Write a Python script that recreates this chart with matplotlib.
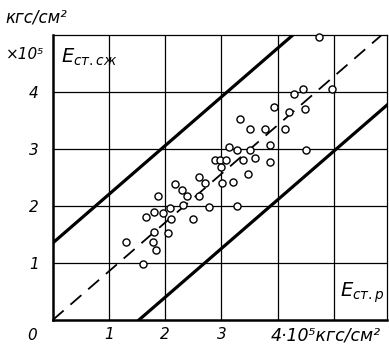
"""Scatter of E_ст.сж against E_ст.р with the mean line and two bounds."""

import matplotlib
matplotlib.use("Agg")
import matplotlib.pyplot as plt
import numpy as np

# E_ст.р, 10^5 кгс/см²
e_tension = [1.31, 1.60, 1.78, 1.84, 1.80, 2.05, 1.66, 1.80, 1.96, 2.10,
             2.08, 2.32, 2.50, 2.78, 3.27, 1.88, 2.18, 2.29, 2.39, 2.60,
             2.71, 2.60, 3.01, 3.20, 2.88, 2.98, 3.08, 2.99, 3.39, 3.59,
             3.86, 3.47, 3.14, 3.28, 3.50, 3.86, 4.50, 3.33, 3.50, 3.77,
             4.13, 3.93, 4.20, 4.48, 4.29, 4.45, 4.96, 4.73]
# E_ст.сж, 10^5 кгс/см²
e_compr = [1.36, 0.99, 1.37, 1.23, 1.54, 1.52, 1.81, 1.90, 1.88, 1.78,
           1.97, 2.01, 1.78, 1.98, 2.00, 2.18, 2.38, 2.28, 2.18, 2.18,
           2.40, 2.51, 2.40, 2.42, 2.81, 2.81, 2.81, 2.69, 2.80, 2.84,
           2.78, 2.57, 3.03, 2.99, 2.99, 3.07, 2.99, 3.52, 3.35, 3.35,
           3.35, 3.74, 3.65, 3.70, 3.96, 4.05, 4.05, 4.96]

slope = 0.855
band = [1.35, -1.31]   # upper and lower bound offsets

x_ticks = [1, 2, 3, 4, 5]
x_labels = ["1", "2", "3", "", ""]
y_ticks = [1, 2, 3, 4]
y_labels = ["1", "2", "3", "4"]

fig = plt.figure(figsize=(3.89, 3.47), dpi=100)
ax = fig.add_axes([0.1355, 0.0778, 0.859, 0.8213])
ax.set_xlim(0, 5.94)
ax.set_ylim(0, 5.0)

xs = np.linspace(0, 6, 50)
ax.plot(xs, slope * xs, color="black", lw=1.3, dashes=(8, 5), zorder=3)
for b in band:
    ax.plot(xs, slope * xs + b, color="black", lw=2.3, solid_capstyle="butt", zorder=3)

ax.scatter(e_tension, e_compr, s=26, facecolor="white", edgecolor="black",
           linewidths=1.0, zorder=4, clip_on=False)

ax.set_xticks(x_ticks, x_labels)
ax.set_yticks(y_ticks, y_labels)
ax.tick_params(axis="x", length=0, labelsize=11, pad=5)
ax.tick_params(axis="y", length=0, labelsize=11, pad=10)
for lab in ax.get_xticklabels() + ax.get_yticklabels():
    lab.set_fontstyle("italic")
ax.grid(True, color="black", lw=0.9)
ax.set_axisbelow(True)
for side in ["left", "bottom"]:
    ax.spines[side].set_linewidth(1.8)
for side in ["top", "right"]:
    ax.spines[side].set_linewidth(0.9)

it = dict(fontstyle="italic", color="black")
ax.text(3.87, -0.27, "4·10⁵кгс/см²", fontsize=12.5, ha="left", va="center",
        clip_on=False, **it)
ax.text(-0.28, -0.27, "0", fontsize=11, ha="right", va="center", **it)
ax.text(-0.15, 4.65, "×10⁵", fontsize=11, ha="right", va="center", **it)
fig.text(0.015, 0.95, "кгс/см²", fontsize=12, ha="left", va="center", **it)
ax.text(0.15, 4.6, r"$E_{ст.сж}$", fontsize=14, ha="left", va="center")
ax.text(5.1, 0.47, r"$E_{ст.р}$", fontsize=14, ha="left", va="center")

fig.savefig("out.png", dpi=100, facecolor="white")
